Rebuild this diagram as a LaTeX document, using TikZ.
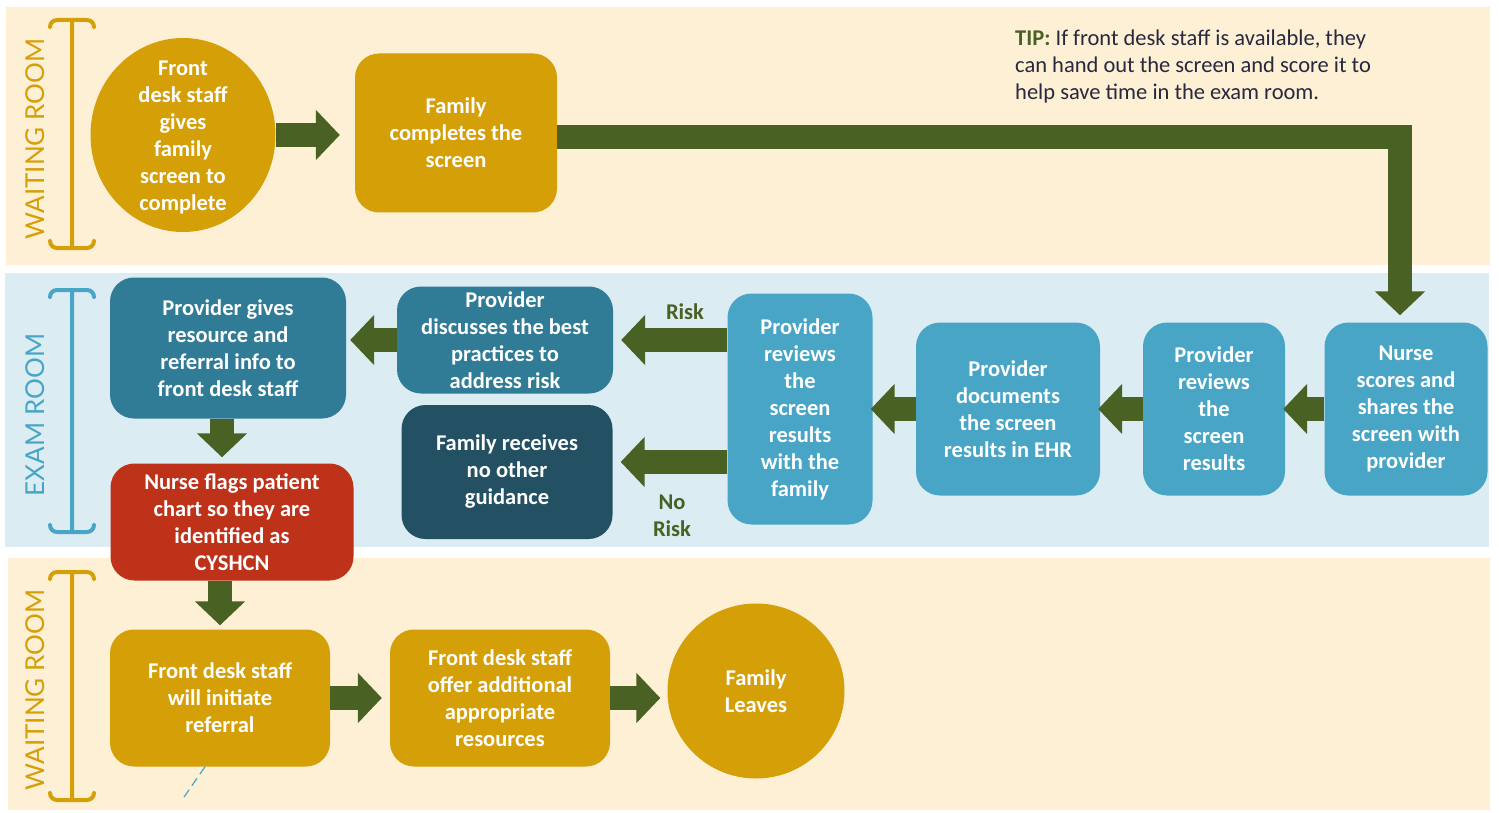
\documentclass[tikz,border=0pt]{standalone}
\usepackage{fontspec}
\setmainfont{Carlito}
\newfontfamily\roomfont{Lato}
\usepackage{tikz}
\usetikzlibrary{arrows.meta, shapes.geometric}
\definecolor{cream}{RGB}{253, 240, 213}
\definecolor{paleblue}{RGB}{219, 236, 243}
\definecolor{gold}{RGB}{213, 159, 8}
\definecolor{midblue}{RGB}{73, 165, 198}
\definecolor{teal}{RGB}{48, 124, 150}
\definecolor{deepteal}{RGB}{35, 81, 99}
\definecolor{flagred}{RGB}{190, 50, 26}
\definecolor{leaf}{RGB}{74, 97, 36}
\definecolor{ink}{RGB}{40, 40, 62}
\newcommand{\boxfont}{\fontsize{22.5}{27}\selectfont\bfseries}
\newcommand{\roombracket}[4]{
  \draw[#1, line width=4pt, line cap=round]
    (#2, #3) -- (#2, #4)
    (#2 - 22, #3 + 7) to[out=90, in=180] (#2 - 15, #3) -- (#2 + 15, #3)
      to[out=0, in=90] (#2 + 22, #3 + 7)
    (#2 - 22, #4 - 7) to[out=-90, in=180] (#2 - 15, #4) -- (#2 + 15, #4)
      to[out=0, in=-90] (#2 + 22, #4 - 7);
}
\tikzset{
  stepbox/.style={rectangle, rounded corners=24pt, inner sep=0pt, text=white,
    font=\boxfont, align=center},
  stepoval/.style={ellipse, inner sep=0pt, fill=gold},
  fatarrow/.style={draw=leaf, line width=24pt, line join=miter,
    -{Triangle[width=49pt, length=24pt]}},
  roomlabel/.style={rotate=90, font=\roomfont\fontsize{26}{30}\selectfont}
}
\begin{document}
\begin{tikzpicture}[x=1pt, y=-1pt]

  \useasboundingbox (0, 0) rectangle (1499, 813);

  % room bands
  \fill[cream] (6, 7) rectangle (1490, 265);
  \fill[paleblue] (5, 273) rectangle (1489, 547);
  \fill[cream] (8, 558) rectangle (1490, 810);

  \roombracket{gold}{72}{20}{248}
  \roombracket{midblue}{72}{290}{532}
  \roombracket{gold}{72}{572}{800}

  \node[roomlabel, text=gold] (waittop) at (35, 139) {WAITING ROOM};
  \node[roomlabel, text=midblue] (exam) at (35, 415) {EXAM ROOM};
  \node[roomlabel, text=gold] (waitbot) at (35, 690) {WAITING ROOM};

  \node[anchor=north west, inner sep=0pt, align=left, text=ink,
        font=\fontsize{22.5}{27}\selectfont] (tip) at (1015, 30)
    {{\bfseries\color{leaf}TIP:} If front desk staff is available, they\\
     can hand out the screen and score it to\\
     help save time in the exam room.};

  % waiting room
  \node[stepoval, minimum width=185pt, minimum height=194pt,
        label={[stepbox, yshift=-2pt]center:Front\\desk staff\\gives\\family\\screen to\\complete}]
    (start) at (183, 135) {};
  \node[stepbox, fill=gold, minimum width=202pt, minimum height=159pt]
    (fillin) at (456, 133) {Family\\completes the\\screen};

  % exam room
  \node[stepbox, fill=midblue, minimum width=163pt, minimum height=173pt]
    (nurse) at (1406, 409) {Nurse\\scores and\\shares the\\screen with\\provider};
  \node[stepbox, fill=midblue, minimum width=142pt, minimum height=173pt]
    (review) at (1214, 409) {Provider\\reviews\\the\\screen\\results};
  \node[stepbox, fill=midblue, minimum width=184pt, minimum height=173pt]
    (document) at (1008, 409) {Provider\\documents\\the screen\\results in EHR};
  \node[stepbox, fill=midblue, minimum width=145pt, minimum height=231pt]
    (discuss) at (800, 409) {Provider\\reviews\\the\\screen\\results\\with the\\family};
  \node[stepbox, fill=teal, minimum width=216pt, minimum height=107pt]
    (practice) at (505, 340) {Provider\\discusses the best\\practices to\\address risk};
  \node[stepbox, fill=deepteal, minimum width=211pt, minimum height=134pt]
    (noguide) at (507, 472) {Family receives\\no other\\guidance};
  \node[stepbox, fill=teal, minimum width=236pt, minimum height=141pt]
    (resource) at (228, 348) {Provider gives\\resource and\\referral info to\\front desk staff};
  \node[stepbox, fill=flagred, minimum width=243pt, minimum height=117pt]
    (flag) at (232, 522) {Nurse flags patient\\chart so they are\\identified as\\CYSHCN};

  \node[text=leaf, font=\boxfont] (risk) at (685, 312) {Risk};
  \node[text=leaf, font=\boxfont, align=center] (norisk) at (672, 516) {No\\Risk};

  % waiting room again
  \node[stepbox, fill=gold, minimum width=220pt, minimum height=137pt]
    (referral) at (220, 698) {Front desk staff\\will initiate\\referral};
  \node[stepbox, fill=gold, minimum width=220pt, minimum height=137pt]
    (offer) at (500, 698) {Front desk staff\\offer additional\\appropriate\\resources};
  \node[stepoval, minimum width=177pt, minimum height=175pt,
        label={[stepbox]center:Family\\Leaves}]
    (leave) at (756, 691) {};

  \coordinate (dashend) at (182, 800);
  \draw[midblue, line width=1.2pt, dash pattern=on 9pt off 5pt]
    ([xshift=-15pt]referral.south) -- (dashend);

  % connectors
  \draw[fatarrow, shorten >=15pt] (start.east) -- (start.east -| fillin.west);
  \draw[fatarrow, shorten >=7pt] ([yshift=-4pt]fillin.east) -| ([xshift=-6pt]nurse.north);
  \draw[fatarrow, shorten >=-2pt] (nurse.west) -- (review.east);
  \draw[fatarrow, shorten >=-2pt] (review.west) -- (document.east);
  \draw[fatarrow, shorten >=-2pt] (document.west) -- (discuss.east);
  \draw[fatarrow, shorten >=8pt] (discuss.west |- practice.east) -- (practice.east);
  \draw[fatarrow, shorten >=8pt] ([yshift=10pt]discuss.west |- noguide.east)
    -- ([yshift=10pt]noguide.east);
  \draw[fatarrow, shorten >=4pt] (practice.west) -- (resource.east |- practice.west);
  \draw[fatarrow, shorten >=6pt] ([xshift=-6pt]resource.south)
    -- ([xshift=-6pt]resource.south |- flag.north);
  \draw[fatarrow, shorten >=4pt] (flag.south -| referral) -- (referral.north);
  \draw[fatarrow, shorten >=8pt] (referral.east) -- (offer.west);
  \draw[fatarrow, shorten >=7pt] (offer.east) -- (offer.east -| leave.west);

\end{tikzpicture}
\end{document}
